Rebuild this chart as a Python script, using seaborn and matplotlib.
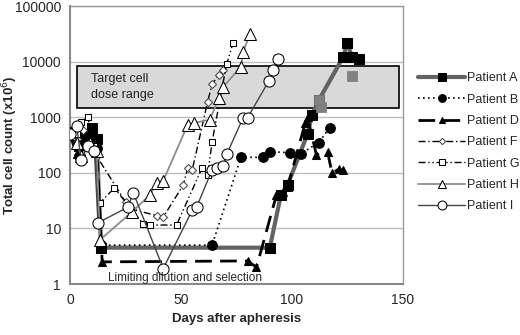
import numpy as np
import matplotlib
matplotlib.use("Agg")
import matplotlib.pyplot as plt
from matplotlib.patches import Rectangle
import seaborn as sns

sns.set_style("white")
plt.rcParams['font.family'] = ['Liberation Sans', 'DejaVu Sans']

# cell counts (x10^6) per patient
a_days = [0, 4, 7, 10, 12, 14, 90, 95, 98, 107, 109, 112, 123, 125, 127, 130]
a_vals = [500, 300, 450, 650, 400, 4.5, 4.5, 40, 60, 500, 1100, 2000, 12000, 22000, 12000, 11000]
# a few of patient A's squares are drawn in grey
a_grey_days = [112, 113, 127]
a_grey_vals = [2000, 1550, 5400]

b_days = [0, 4, 7, 10, 12, 14, 64, 77, 87, 90, 99, 104, 112, 117]
b_vals = [550, 200, 350, 480, 280, 5, 5, 190, 190, 240, 230, 220, 350, 650]

d_days = [0, 3, 5, 9, 12, 14.5, 80, 84, 93, 96, 98, 106, 107, 111, 116, 118, 121, 123]
d_vals = [480, 220, 250, 600, 300, 2.5, 2.6, 2.0, 40, 45, 55, 800, 1000, 210, 240, 100, 115, 110]

f_days = [0, 3, 6, 9, 12, 25, 28, 39, 42, 51, 53, 55, 62, 64, 67, 69]
f_vals = [450, 400, 600, 350, 200, 30, 22, 17, 16, 60, 120, 110, 1900, 3900, 5800, 7200]

g_days = [0, 3, 5, 8, 11, 13.5, 20, 33, 36, 48, 59.5, 62, 64, 70.5, 73.5]
g_vals = [450, 500, 830, 1000, 300, 29, 53, 12, 11.5, 11.5, 123, 92, 360, 8900, 22000]

h_days = [0, 3, 5, 9, 12, 13.5, 28, 36, 39, 42, 53, 56, 63, 67, 69, 77, 78, 81]
h_vals = [500, 350, 200, 350, 250, 6.2, 20, 40, 66, 72, 730, 790, 900, 2200, 3500, 8100, 15000, 31000]

i_days = [0, 3, 5, 8, 11, 12.6, 26, 28.5, 42, 55, 57, 64, 66, 69, 70.7, 78, 80, 89.6, 91.5, 93.7]
i_vals = [500, 700, 170, 300, 250, 12.6, 24, 44, 1.9, 21, 24, 113, 120, 130, 220, 980, 980, 4500, 7200, 11300]

target_days = (3, 148)
target_range = (1450, 8300)

fig = plt.figure(figsize=(5.2, 3.35), dpi=100)
ax = fig.add_axes([70 / 520, 51 / 335, 333 / 520, 278 / 335])

ax.add_patch(Rectangle((target_days[0], target_range[0]),
                       target_days[1] - target_days[0],
                       target_range[1] - target_range[0],
                       facecolor='#d9d9d9', edgecolor='black', lw=1.2, zorder=1))

sns.lineplot(x=a_days, y=a_vals, ax=ax, sort=False, estimator=None, color='#636363',
             lw=3, marker='s', markersize=7, markerfacecolor='black',
             markeredgecolor='black', label='Patient A', zorder=3)
sns.scatterplot(x=a_grey_days, y=a_grey_vals, ax=ax, marker='s', s=50,
                color='#808080', edgecolor='#808080', zorder=4)
sns.lineplot(x=b_days, y=b_vals, ax=ax, sort=False, estimator=None, color='black',
             lw=1.2, linestyle=(0, (1, 2)), marker='o', markersize=7,
             markerfacecolor='black', markeredgecolor='black', label='Patient B', zorder=3)
sns.lineplot(x=d_days, y=d_vals, ax=ax, sort=False, estimator=None, color='black',
             lw=2, linestyle=(0, (6, 3)), marker='^', markersize=6,
             markerfacecolor='black', markeredgecolor='black', label='Patient D', zorder=3)
sns.lineplot(x=f_days, y=f_vals, ax=ax, sort=False, estimator=None, color='black',
             lw=1, linestyle=(0, (5, 2, 1, 2)), marker='D', markersize=4,
             markerfacecolor='white', markeredgecolor='#444444', label='Patient F', zorder=3)
sns.lineplot(x=g_days, y=g_vals, ax=ax, sort=False, estimator=None, color='black',
             lw=1, linestyle=(0, (5, 2, 1, 2, 1, 2)), marker='s', markersize=5,
             markerfacecolor='white', markeredgecolor='black', label='Patient G', zorder=3)
sns.lineplot(x=h_days, y=h_vals, ax=ax, sort=False, estimator=None, color='#8c8c8c',
             lw=1.3, marker='^', markersize=8, markerfacecolor='white',
             markeredgecolor='black', label='Patient H', zorder=3)
sns.lineplot(x=i_days, y=i_vals, ax=ax, sort=False, estimator=None, color='#444444',
             lw=1, marker='o', markersize=8, markerfacecolor='white',
             markeredgecolor='black', label='Patient I', zorder=3)

ax.set_yscale('log')
ax.set_xlim(0, 150)
ax.set_ylim(1, 100000)
ax.set_xticks([0, 50, 100, 150])
ax.set_yticks([1, 10, 100, 1000, 10000, 100000])
ax.set_yticklabels(['1', '10', '100', '1000', '10000', '100000'])
ax.minorticks_off()
ax.yaxis.grid(True, color='#c0c0c0', lw=1)
ax.set_axisbelow(True)
ax.tick_params(axis='both', labelsize=10, length=3, color='#888888')

for side in ['top', 'right']:
    ax.spines[side].set_color('#999999')
    ax.spines[side].set_linewidth(1)
for side in ['left', 'bottom']:
    ax.spines[side].set_color('#888888')
    ax.spines[side].set_linewidth(1.5)

ax.set_xlabel('Days after apheresis', fontsize=9.5, fontweight='bold')
ax.set_ylabel('Total cell count (x10$^6$)', fontsize=9.5, fontweight='bold')
ax.yaxis.set_label_coords(-0.15, 0.5)

ax.text(9.5, 3470, 'Target cell\ndose range', fontsize=9, color='#222222',
        va='center', ha='left', linespacing=1.4, zorder=2)
ax.text(17, 1.3, 'Limiting dilution and selection', fontsize=8.5,
        va='center', ha='left', zorder=5)

ax.legend(loc='upper left', bbox_to_anchor=(1.03, 0.78), frameon=False,
          fontsize=9, handlelength=3.8, labelspacing=0.75, handletextpad=0.15,
          borderaxespad=0, markerscale=0.8)

fig.savefig('out.png', dpi=100)
